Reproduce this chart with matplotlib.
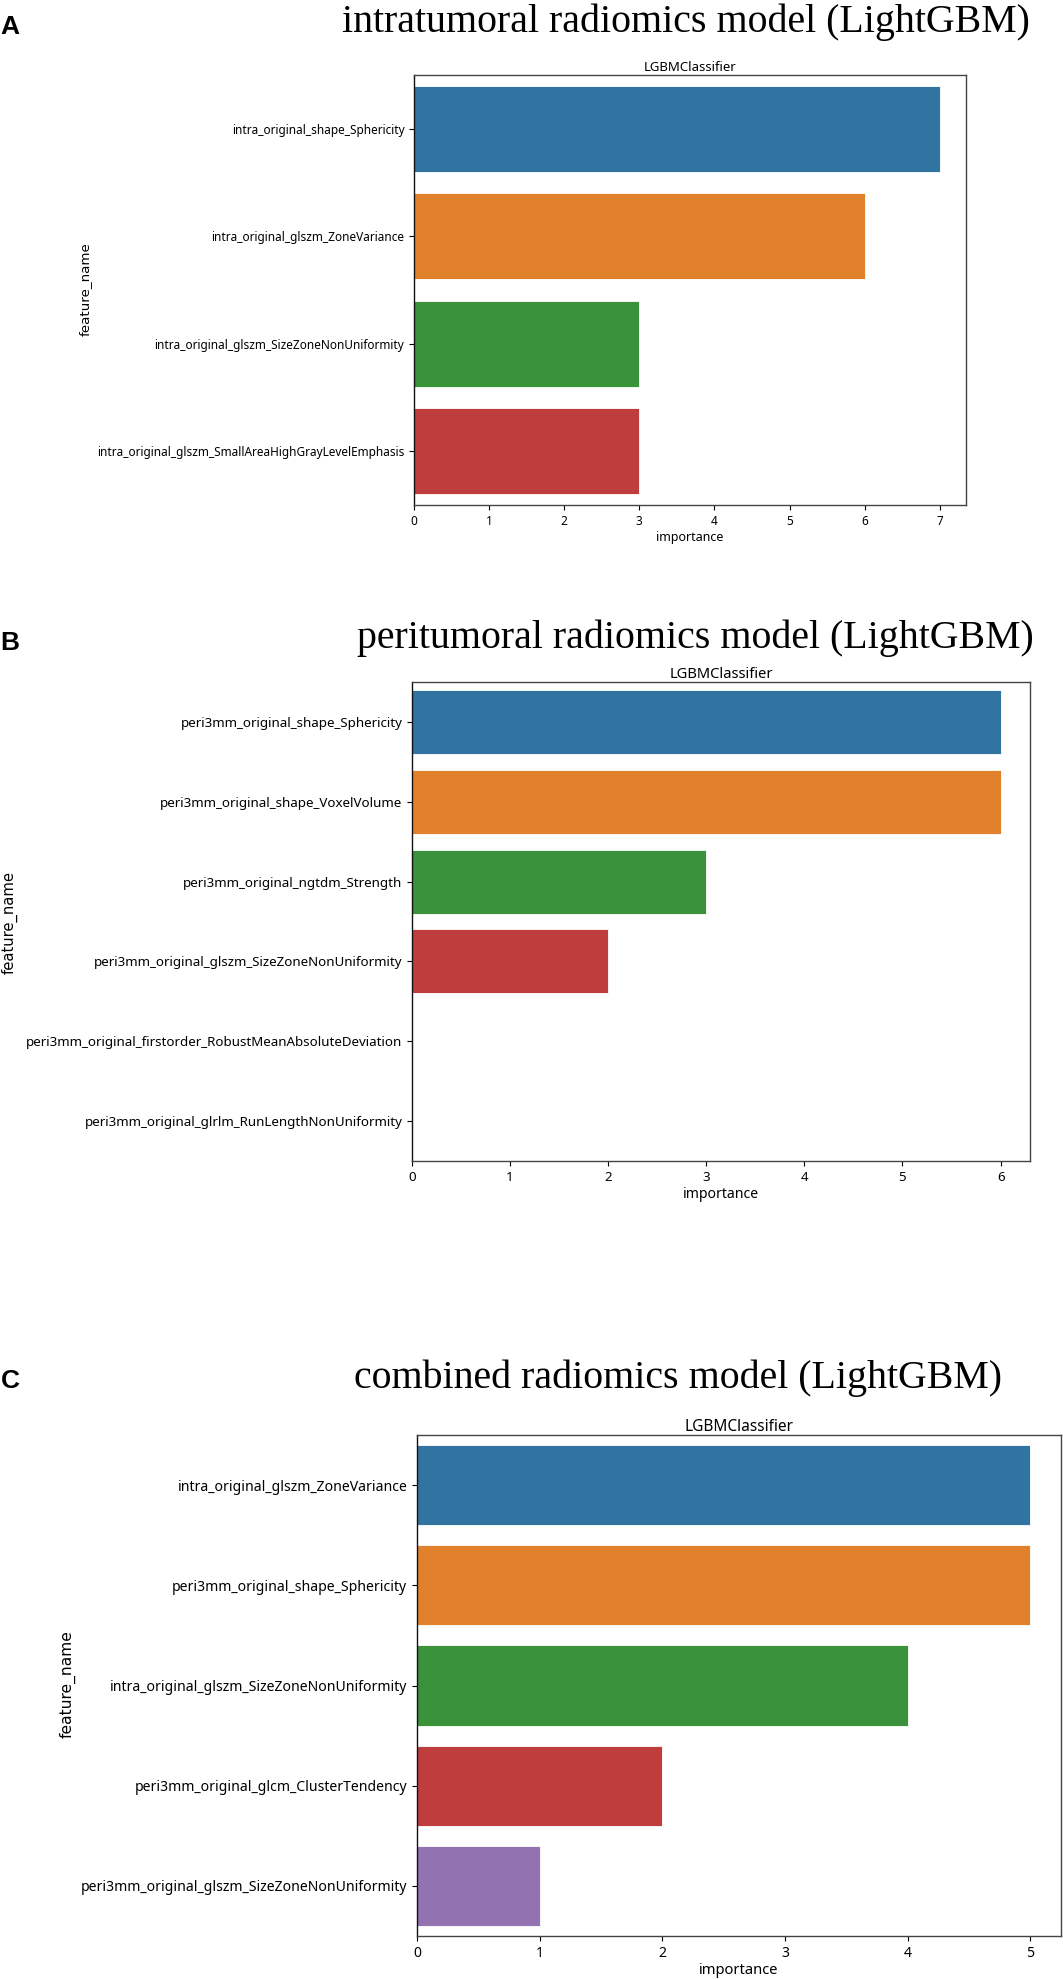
import matplotlib
matplotlib.use("Agg")
import matplotlib.pyplot as plt

# --------------------------------------------------------------------------
# data
# --------------------------------------------------------------------------

INTRA_FEATURES = [
    "intra_original_shape_Sphericity",
    "intra_original_glszm_ZoneVariance",
    "intra_original_glszm_SizeZoneNonUniformity",
    "intra_original_glszm_SmallAreaHighGrayLevelEmphasis",
]
INTRA_IMPORTANCE = [7, 6, 3, 3]

PERI_FEATURES = [
    "peri3mm_original_shape_Sphericity",
    "peri3mm_original_shape_VoxelVolume",
    "peri3mm_original_ngtdm_Strength",
    "peri3mm_original_glszm_SizeZoneNonUniformity",
    "peri3mm_original_firstorder_RobustMeanAbsoluteDeviation",
    "peri3mm_original_glrlm_RunLengthNonUniformity",
]
PERI_IMPORTANCE = [6, 6, 3, 2, 0, 0]

COMB_FEATURES = [
    "intra_original_glszm_ZoneVariance",
    "peri3mm_original_shape_Sphericity",
    "intra_original_glszm_SizeZoneNonUniformity",
    "peri3mm_original_glcm_ClusterTendency",
    "peri3mm_original_glszm_SizeZoneNonUniformity",
]
COMB_IMPORTANCE = [5, 5, 4, 2, 1]

PANEL_TITLES = [
    "intratumoral radiomics model (LightGBM)",
    "peritumoral radiomics model (LightGBM)",
    "combined radiomics model (LightGBM)",
]
PANEL_LETTERS = ["A", "B", "C"]

# seaborn barplot colours (tab10 at saturation 0.75)
BAR_COLORS = ["#3274a1", "#e1812c", "#3a923a", "#c03d3e", "#9372b2", "#845b53"]

W, H = 1063, 1979
TICK_FONT = "Noto Sans"


def px(x, y):
    """pixel position (from top-left) -> figure fraction"""
    return x / W, 1 - y / H


def draw_panel(fig, rect, features, values, fs):
    ax = fig.add_axes(rect)
    n = len(features)
    ypos = list(range(n))
    ax.barh(ypos, values, height=0.8, color=BAR_COLORS[:n],
            edgecolor="white", linewidth=0.6, zorder=2)
    ax.set_ylim(n - 0.5, -0.5)
    xmax = max(values)
    ax.set_xlim(0, xmax * 1.05)
    ax.set_xticks(range(0, xmax + 1))
    ax.set_yticks(ypos)
    ax.set_yticklabels(features, fontsize=fs, family=TICK_FONT)
    for lab in ax.get_xticklabels():
        lab.set_fontsize(fs)
        lab.set_family(TICK_FONT)
    ax.set_xlabel("importance", fontsize=fs + 0.5, family=TICK_FONT,
                  labelpad=2)
    ax.set_title("LGBMClassifier", fontsize=fs + 1, family=TICK_FONT, pad=3)
    for sp in ax.spines.values():
        sp.set_color("#444444")
        sp.set_linewidth(1.0)
    ax.spines["left"].set_color("#111111")
    return ax


fig = plt.figure(figsize=(W / 100, H / 100), dpi=100)

# axes rectangles measured in pixels: left, top, right, bottom
boxes = [(414, 75, 966, 505), (412, 682, 1030, 1161), (417, 1435, 1061, 1936)]
rects = [(l / W, 1 - b / H, (r - l) / W, (b - t) / H) for l, t, r, b in boxes]

data = [(INTRA_FEATURES, INTRA_IMPORTANCE),
        (PERI_FEATURES, PERI_IMPORTANCE),
        (COMB_FEATURES, COMB_IMPORTANCE)]
font_sizes = [8.5, 9.6, 10.1]
ylab_sizes = [9.6, 10.6, 11.2]
ylab_pos = [(85, 289), (10, 923), (68, 1684)]
title_pos = [(686, 22), (695, 638), (678, 1378)]
letter_pos = [(10, 27), (10, 643), (10, 1381)]

for i, (feats, vals) in enumerate(data):
    draw_panel(fig, rects[i], feats, vals, font_sizes[i])
    fx, fy = px(*ylab_pos[i])
    fig.text(fx, fy, "feature_name", rotation=90, ha="center", va="center",
             fontsize=ylab_sizes[i], family="DejaVu Sans")
    tx, ty = px(*title_pos[i])
    fig.text(tx, ty, PANEL_TITLES[i], ha="center", va="center",
             fontsize=28.7, family="Liberation Serif")
    lx, ly = px(*letter_pos[i])
    fig.text(lx, ly, PANEL_LETTERS[i], ha="center", va="center",
             fontsize=19, fontweight="bold", family="Liberation Sans")

fig.savefig("out.png", dpi=100)
